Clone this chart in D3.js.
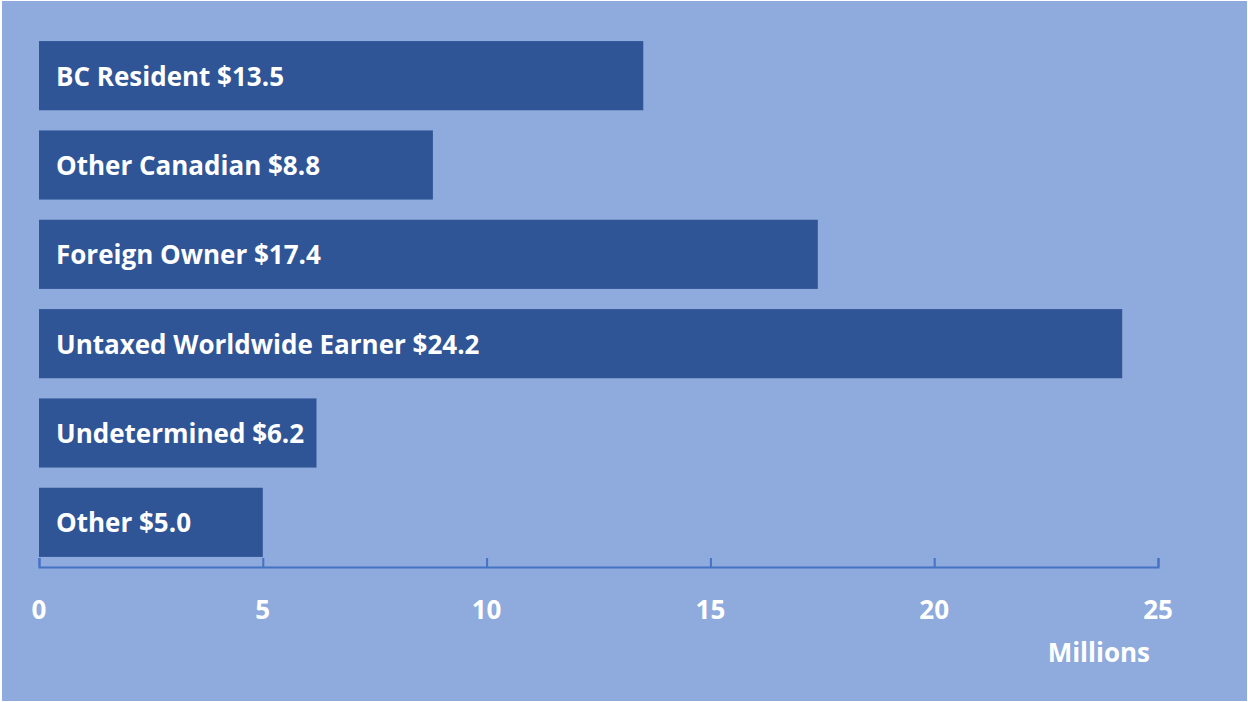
<!DOCTYPE html>
<html><head><meta charset="utf-8">
<script src="https://cdn.jsdelivr.net/npm/d3@7"></script>
<style>html,body{margin:0;padding:0;background:#fff;overflow:hidden}</style>
</head><body>
<svg id="c" width="1248" height="702"></svg>
<script>
const categories = ["BC Resident", "Other Canadian", "Foreign Owner", "Untaxed Worldwide Earner", "Undetermined", "Other"];
const values = [13.5, 8.8, 17.4, 24.2, 6.2, 5.0];
const tickValues = [0, 5, 10, 15, 20, 25];
const axisTitle = "Millions";

const svg = d3.select("#c");
const font = "'Open Sans', 'Noto Sans', sans-serif";
svg.append("rect").attr("x", 2).attr("y", 1).attr("width", 1245).attr("height", 700).attr("fill", "#8FAADC");

const x = d3.scaleLinear().domain([0, 25]).range([39, 1158]);
const y = d3.scaleBand().domain(categories).range([31, 567]).paddingInner(0.226).paddingOuter(0.113);

svg.selectAll("rect.bar").data(categories).join("rect").attr("class", "bar")
  .attr("x", x(0)).attr("y", d => y(d)).attr("width", (d, i) => x(values[i]) - x(0))
  .attr("height", y.bandwidth()).attr("fill", "#2F5597");

svg.selectAll("text.lbl").data(categories).join("text").attr("class", "lbl")
  .attr("x", 56).attr("y", d => y(d) + y.bandwidth() / 2 + 1).attr("dy", "0.35em")
  .attr("fill", "#fff").attr("font-family", font).attr("font-weight", 700).attr("font-size", 26)
  .text((d, i) => d + " $" + values[i].toFixed(1));

const axisY = 567;
const ax = svg.append("g").attr("transform", `translate(0,${axisY})`)
  .call(d3.axisBottom(x).tickValues(tickValues).tickSizeInner(-9).tickSizeOuter(-9).tickPadding(0).tickFormat(""));
ax.select(".domain").attr("stroke", "#4472C4").attr("stroke-width", 2);
ax.selectAll(".tick line").attr("stroke", "#4472C4").attr("stroke-width", 2);

svg.selectAll("text.tick").data(tickValues).join("text").attr("class", "tick")
  .attr("x", d => x(d)).attr("y", 610).attr("dy", "0.35em").attr("text-anchor", "middle")
  .attr("fill", "#fff").attr("font-family", font).attr("font-weight", 700).attr("font-size", 26)
  .text(d => d);

svg.append("text").attr("x", 1150).attr("y", 653).attr("dy", "0.35em").attr("text-anchor", "end")
  .attr("fill", "#fff").attr("font-family", font).attr("font-weight", 700).attr("font-size", 26)
  .text(axisTitle);
</script>
</body></html>
